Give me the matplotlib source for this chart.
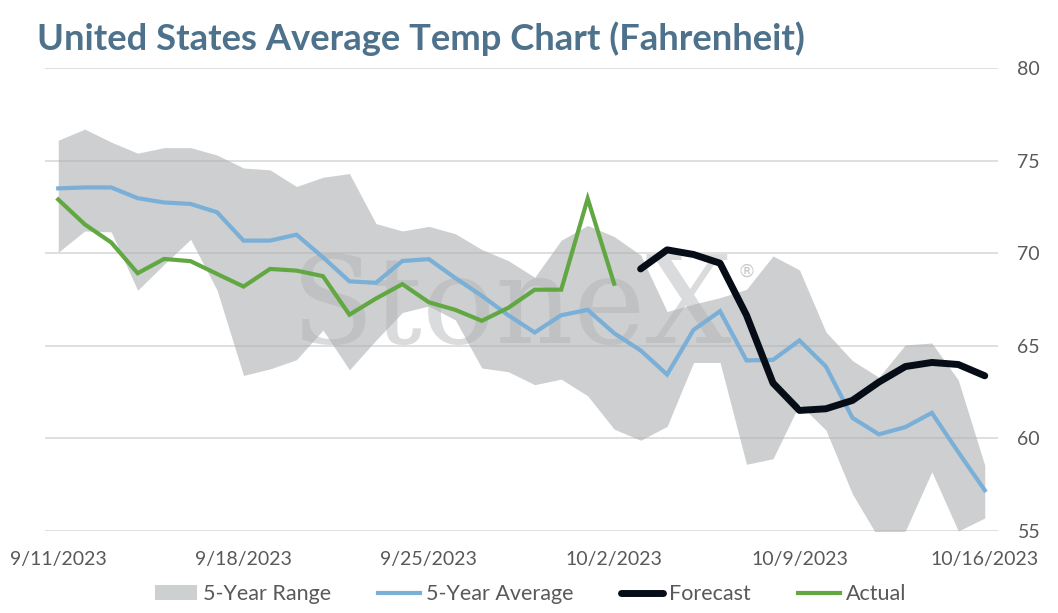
import matplotlib
matplotlib.use("Agg")
import matplotlib.pyplot as plt
from matplotlib.patches import Patch
from matplotlib.lines import Line2D
import numpy as np
import pandas as pd

# ---------------- data ----------------
dates = pd.date_range("2023-09-11", "2023-10-16", freq="D")

range_upper = [76.1, 76.7, 76.0, 75.4, 75.7, 75.7, 75.3, 74.6, 74.5, 73.6,
               74.1, 74.3, 71.6, 71.2, 71.45, 71.05, 70.2, 69.6, 68.7, 70.7,
               71.5, 70.9, 69.9, 66.85, 67.25, 67.6, 68.05, 69.85, 69.1, 65.75,
               64.2, 63.3, 65.05, 65.15, 63.15, 58.55]
range_lower = [70.05, 71.2, 71.15, 68.0, 69.4, 70.75, 68.0, 63.4, 63.75, 64.25,
               65.85, 63.7, 65.3, 66.8, 67.15, 66.4, 63.8, 63.6, 62.9, 63.2,
               62.3, 60.5, 59.9, 60.65, 64.1, 64.1, 58.6, 58.9, 61.85, 60.45,
               57.0, 54.6, 55.0, 58.2, 55.0, 55.7]
avg_5yr = [73.5, 73.55, 73.55, 72.97, 72.74, 72.66, 72.21, 70.68, 70.68, 71.0,
           69.78, 68.48, 68.4, 69.58, 69.68, 68.66, 67.7, 66.65, 65.72, 66.65,
           66.94, 65.68, 64.75, 63.45, 65.86, 66.87, 64.21, 64.24, 65.29, 63.88,
           61.11, 60.22, 60.61, 61.38, 59.26, 57.2]
actual = [72.9, 71.56, 70.58, 68.92, 69.69, 69.57, 68.88, 68.2, 69.15, 69.06,
          68.76, 66.68, 67.55, 68.33, 67.35, 66.94, 66.35, 67.05, 68.03, 68.03,
          72.95, 68.35]
forecast = [69.15, 70.18, 69.93, 69.46, 66.65, 62.99, 61.51, 61.6, 62.05, 63.04,
            63.88, 64.1, 63.99, 63.38]
forecast_start = 22

y_ticks = [55, 60, 65, 70, 75, 80]
x_tick_idx = [0, 7, 14, 21, 28, 35]

title = "United States Average Temp Chart (Fahrenheit)"
legend_labels = ["5-Year Range", "5-Year Average", "Forecast", "Actual"]

# ---------------- style ----------------
FONT = "Lato"
TXT = "#595959"
BAND = (172/255, 176/255, 178/255)
BAND_ALPHA = 0.6
BLUE = "#7aafd8"
GREEN = "#62a842"
BLACK = "#070d17"
TITLE_C = "#4e728c"

W, H = 1058, 613
fig = plt.figure(figsize=(W/100, H/100), dpi=100)
fig.patch.set_facecolor("white")
L, R, T, B = 45, 998, 68, 531
ax = fig.add_axes([L/W, 1-B/H, (R-L)/W, (B-T)/H])

x = np.arange(len(dates))
ax.fill_between(x, range_lower, range_upper, color=BAND, alpha=BAND_ALPHA,
                linewidth=0, zorder=1)
ax.plot(x, avg_5yr, color=BLUE, lw=3.0, zorder=3, solid_joinstyle="miter")
ax.plot(x[:len(actual)], actual, color=GREEN, lw=3.0, zorder=4, solid_joinstyle="miter")
ax.plot(x[forecast_start:forecast_start+len(forecast)], forecast, color=BLACK,
        lw=5.0, zorder=5, solid_capstyle="round", solid_joinstyle="round")

ax.set_xlim(-0.5, len(dates)-0.5)
ax.set_ylim(55, 80)
ax.set_yticks(y_ticks)
ax.set_xticks(x_tick_idx)
ax.set_xticklabels([f"{d.month}/{d.day}/{d.year}" for d in dates[x_tick_idx]])
ax.yaxis.tick_right()
ax.grid(axis="y", color="#d9d9d9", lw=1.2)
ax.set_axisbelow(True)
for s in ax.spines.values():
    s.set_visible(False)
ax.tick_params(axis="both", length=0, labelsize=14, labelcolor=TXT)
ax.tick_params(axis="y", pad=14)
ax.tick_params(axis="x", pad=14.5)
for lab in ax.get_xticklabels() + ax.get_yticklabels():
    lab.set_fontfamily(FONT)

renderer = fig.canvas.get_renderer()

def fit(txt, target_w):
    fs = txt.get_fontsize()
    for _ in range(3):
        w = txt.get_window_extent(renderer).width
        fs = fs * target_w / w
        txt.set_fontsize(fs)

# watermark
wm = ax.text(291/W, 1-343/H, "StoneX", transform=fig.transFigure,
             family="DejaVu Serif", fontsize=85, color="#afb0b3",
             alpha=0.45, ha="left", va="baseline", zorder=2, clip_on=False)
fit(wm, 442)
ax.text(737/W, 1-277/H, "®", transform=fig.transFigure, family="DejaVu Sans",
        fontsize=13, color="#c8c9cb", ha="left", va="baseline", zorder=2,
        clip_on=False)

# title
tt = fig.text(36.6/W, 1-50/H, title, ha="left", va="baseline", family=FONT,
              fontweight="bold", fontsize=22, color=TITLE_C)
fit(tt, 768)

# legend
handles = [
    Patch(facecolor="#cdd0d1", edgecolor="none"),
    Line2D([], [], color=BLUE, lw=3.0),
    Line2D([], [], color=BLACK, lw=5.0, solid_capstyle="round"),
    Line2D([], [], color=GREEN, lw=3.0),
]
leg = fig.legend(handles, legend_labels, loc="center",
                 bbox_to_anchor=(530.5/W, 1-594/H), ncol=4, frameon=False,
                 prop={"family": FONT, "size": 15.5}, handlelength=1.95,
                 handletextpad=0.28, columnspacing=2.2, handleheight=0.65,
                 borderaxespad=0, borderpad=0)
for t in leg.get_texts():
    t.set_color(TXT)

fig.savefig("out.png", dpi=100, facecolor="white")
